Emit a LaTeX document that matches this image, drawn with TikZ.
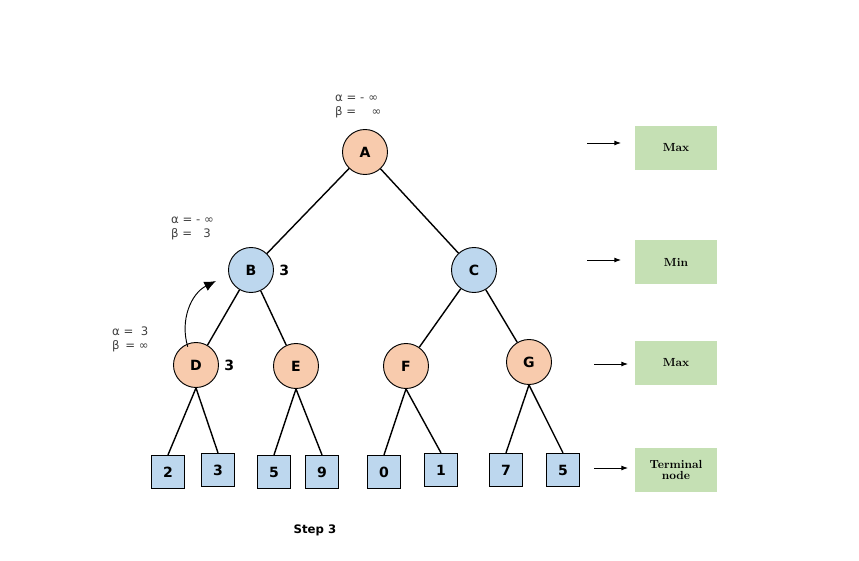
\documentclass[tikz,border=0pt]{standalone}
\usepackage{fontspec}
\newfontfamily\sansf{DejaVu Sans}
\usetikzlibrary{arrows.meta}
\definecolor{maxfill}{HTML}{F8CBAD}
\definecolor{minfill}{HTML}{BDD7EE}
\definecolor{tagfill}{HTML}{C5E0B4}
\tikzset{
  maxnode/.style={circle, draw, thick, fill=maxfill, minimum size=1.35cm, inner sep=0pt, font=\sansf\bfseries\large},
  minnode/.style={circle, draw, thick, fill=minfill, minimum size=1.35cm, inner sep=0pt, font=\sansf\bfseries\large},
  leaf/.style={rectangle, draw, thick, fill=minfill, minimum size=1.0cm, inner sep=0pt, font=\sansf\bfseries\large},
  tag/.style={rectangle, fill=tagfill, minimum width=2.45cm, minimum height=1.3cm, font=\bfseries, align=center, inner sep=1pt},
  edge/.style={line width=1.2pt},
  val/.style={font=\sansf\bfseries\large},
  ab/.style={font=\sansf, text=black!75, align=left, inner sep=0pt}
}
\begin{document}
\begin{tikzpicture}[x=0.03cm, y=-0.03cm]
    \useasboundingbox (0,0) rectangle (859,561);
    % tree nodes
    \node[maxnode] (a) at (365,152) {A};
    \node[minnode] (b) at (251,270) {B};
    \node[minnode] (c) at (474,270) {C};
    \node[maxnode] (d) at (196,365) {D};
    \node[maxnode] (e) at (296,366) {E};
    \node[maxnode] (f) at (406,366) {F};
    \node[maxnode] (g) at (529,362) {G};
    % terminal nodes
    \node[leaf] (l1) at (168,472) {2};
    \node[leaf] (l2) at (218,470) {3};
    \node[leaf] (l3) at (274,472) {5};
    \node[leaf] (l4) at (322,472) {9};
    \node[leaf] (l5) at (384,472) {0};
    \node[leaf] (l6) at (441,470) {1};
    \node[leaf] (l7) at (506,470) {7};
    \node[leaf] (l8) at (563,470) {5};
    % edges
    \draw[edge] (a) -- (b);
    \draw[edge] (a) -- (c);
    \draw[edge] (b) -- (d);
    \draw[edge] (b) -- (e);
    \draw[edge] (c) -- (f);
    \draw[edge] (c) -- (g);
    \draw[edge] (d.south) -- (l1.north);
    \draw[edge] (d.south) -- (l2.north);
    \draw[edge] (e.south) -- (l3.north);
    \draw[edge] (e.south) -- (l4.north);
    \draw[edge] (f.south) -- (l5.north);
    \draw[edge] (f.south) -- (l6.north);
    \draw[edge] (g.south) -- (l7.north);
    \draw[edge] (g.south) -- (l8.north);
    % values
    \node[val, right=1pt] (bv) at (b.east) {3};
    \node[val, right=1pt] (dv) at (d.east) {3};
    % alpha beta
    \node[ab, anchor=west] (aab) at (335,106) {α = -\,\,∞\\β = \quad∞};
    \node[ab, anchor=west] (bab) at (171,228) {α = - ∞\\β = \ \ 3};
    \node[ab, anchor=west] (dab) at (112,339) {α = \ 3\\β \,= ∞};
    % backed-up value
    \coordinate (arrtip) at (216,281);
    \draw[thick, -{Latex[length=3.5mm,width=3mm]}] (d.north west) ++(8,-2) to[bend left=40] (arrtip);
    % level tags
    \node[tag] (t1) at (676,148) {Max};
    \node[tag] (t2) at (676,262) {Min};
    \node[tag] (t3) at (676,363) {Max};
    \node[tag] (t4) at (676,470) {Terminal\\[-3pt]node};
    \coordinate (s1) at (587,143);
    \coordinate (s2) at (587,260);
    \coordinate (s3) at (594,364);
    \coordinate (s4) at (594,468);
    \draw[thick, -{Latex[length=2mm]}] (s1) -- ++(34,0);
    \draw[thick, -{Latex[length=2mm]}] (s2) -- ++(34,0);
    \draw[thick, -{Latex[length=2mm]}] (s3) -- ++(34,0);
    \draw[thick, -{Latex[length=2mm]}] (s4) -- ++(34,0);
    \node[val, font=\sansf\bfseries] (step) at (315,530) {Step 3};
\end{tikzpicture}
\end{document}
